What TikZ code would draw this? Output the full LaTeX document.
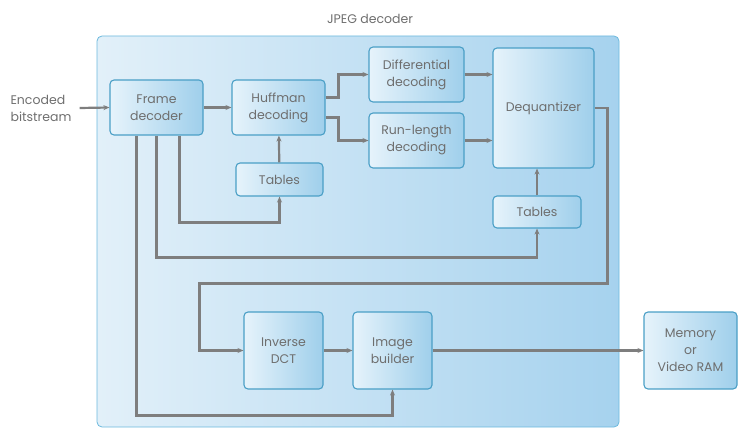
\documentclass[tikz,border=0pt]{standalone}
\usepackage{fontspec}
\setmainfont{Poppins}
\usetikzlibrary{arrows.meta}
\definecolor{boxlight}{HTML}{E6F3FB}
\definecolor{boxdark}{HTML}{9FCFEB}
\definecolor{boxline}{HTML}{4A9FC6}
\definecolor{outlight}{HTML}{E2F0F9}
\definecolor{outdark}{HTML}{A6D2EE}
\definecolor{outline}{HTML}{6CB9DD}
\definecolor{flowgray}{HTML}{7E7E7E}
\definecolor{txtgray}{HTML}{6E6E6E}
\begin{document}
\begin{tikzpicture}[x=1pt,y=-1pt]
    \tikzstyle{every node}=[text=txtgray,font=\fontsize{12.5}{17}\selectfont,
                            align=center,inner sep=0pt]
    \tikzstyle{blk}=[draw=boxline,line width=1.1pt,rounded corners=4pt,
                     left color=boxlight,right color=boxdark]
    \tikzstyle{flow}=[draw=flowgray,line width=2.2pt,
                      -{Stealth[length=6pt,width=5pt]}]

      \useasboundingbox (0,0) rectangle (738,430);

      % outer decoder box
      \node (dec) [draw=outline,line width=0.8pt,rounded corners=5pt,
                   left color=outlight,right color=outdark,
                   minimum width=522pt,minimum height=391pt] at (358,231.5) {};
      \node (title) at (370,19) {JPEG decoder};

      % blocks
      \node (enc) [align=left] at (41,108) {Encoded\\bitstream};
      \node (fd) [blk,minimum width=93pt,minimum height=55pt] at (156.5,107.5) {Frame\\decoder};
      \node (hd) [blk,minimum width=93pt,minimum height=55pt] at (278.5,107.5) {Huffman\\decoding};
      \node (tl) [blk,minimum width=87pt,minimum height=33pt] at (279.5,179.5) {Tables};
      \node (dd) [blk,minimum width=95pt,minimum height=55pt] at (416.5,74.5) {Differential\\decoding};
      \node (rl) [blk,minimum width=95pt,minimum height=55pt] at (416.5,140.5) {Run-length\\decoding};
      \node (dq) [blk,minimum width=101pt,minimum height=120pt] at (543.5,108) {Dequantizer};
      \node (tr) [blk,minimum width=88pt,minimum height=32pt] at (537,212) {Tables};
      \node (id) [blk,minimum width=79pt,minimum height=77pt] at (283.5,350.5) {Inverse\\DCT};
      \node (ib) [blk,minimum width=79pt,minimum height=77pt] at (392.5,350.5) {Image\\builder};
      \node (mem) [blk,minimum width=93pt,minimum height=77pt] at (690.5,350.5) {Memory\\or\\Video RAM};

      % data flow
      \draw[flow] ([xshift=8pt]enc.east) -- (fd.west);
      \draw[flow] (fd) -- (hd);
      \draw[flow] ([yshift=10pt]hd.east) -- ++(13,0) |- (dd.west);
      \draw[flow] ([yshift=-10pt]hd.east) -- ++(13,0) |- (rl.west);
      \draw[flow] (dd.east) -- (dd.east -| dq.west);
      \draw[flow] (rl.east) -- (rl.east -| dq.west);
      \draw[flow] (tl) -- (hd);
      \draw[flow] (tr.north) -- (tr.north |- dq.south);
      \draw[flow] (dq.east) -- ++(13,0) |- ([xshift=-44pt,yshift=67pt]id.west) |- (id.west);
      \draw[flow] (id) -- (ib);
      \draw[flow] (ib) -- (mem);

      % frame decoder side info
      \draw[flow] ([xshift=23pt]fd.south) |- ([yshift=-26pt]tl.south) -- (tl.south);
      \draw[flow] (fd.south) |- ([yshift=-29pt]tr.south) -- (tr.south);
      \draw[flow] ([xshift=-20pt]fd.south) |- ([yshift=-26pt]ib.south) -- (ib.south);
    \end{tikzpicture}
\end{document}
